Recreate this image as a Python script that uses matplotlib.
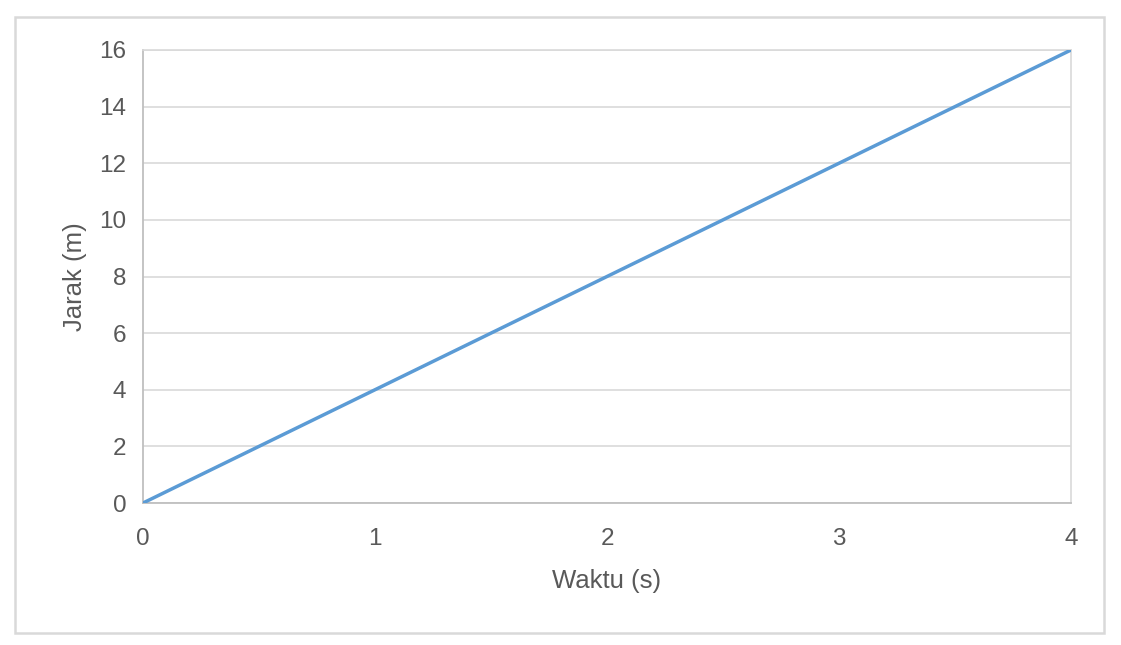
import matplotlib.pyplot as plt
from matplotlib.patches import Rectangle

waktu = [0, 4]
jarak = [0, 16]
xticks = [0, 1, 2, 3, 4]
yticks = [0, 2, 4, 6, 8, 10, 12, 14, 16]

plt.rcParams['font.family'] = ['Liberation Sans', 'DejaVu Sans']

fig = plt.figure(figsize=(11.21, 6.45), dpi=100)
fig.patches.append(Rectangle((15 / 1121, 1 - 633 / 645), 1089 / 1121, 616 / 645,
                             transform=fig.transFigure, fill=False,
                             edgecolor='#d9d9d9', linewidth=1.8))

ax = fig.add_axes([143 / 1121, 1 - 503 / 645, 928 / 1121, 453 / 645])
ax.plot(waktu, jarak, color='#5b9bd5', linewidth=2.5, solid_capstyle='round', zorder=3)

ax.set_xlim(0, 4)
ax.set_ylim(0, 16)
ax.set_xticks(xticks)
ax.set_yticks(yticks)
ax.tick_params(length=0, labelsize=17.5, colors='#595959')
ax.tick_params(axis='x', pad=18)
ax.tick_params(axis='y', pad=12)
ax.grid(axis='y', color='#d9d9d9', linewidth=1.2)
ax.set_axisbelow(True)

for s in ['left', 'bottom']:
    ax.spines[s].set_color('#bfbfbf')
    ax.spines[s].set_linewidth(1.3)
ax.spines['right'].set_color('#d9d9d9')
ax.spines['right'].set_linewidth(1.2)
ax.spines['top'].set_color('#d9d9d9')
ax.spines['top'].set_linewidth(1.2)

ax.set_xlabel('Waktu (s)', fontsize=18.5, color='#595959', labelpad=14)
ax.set_ylabel('Jarak (m)', fontsize=18.5, color='#595959', labelpad=9)

fig.savefig('out.png', dpi=100)
